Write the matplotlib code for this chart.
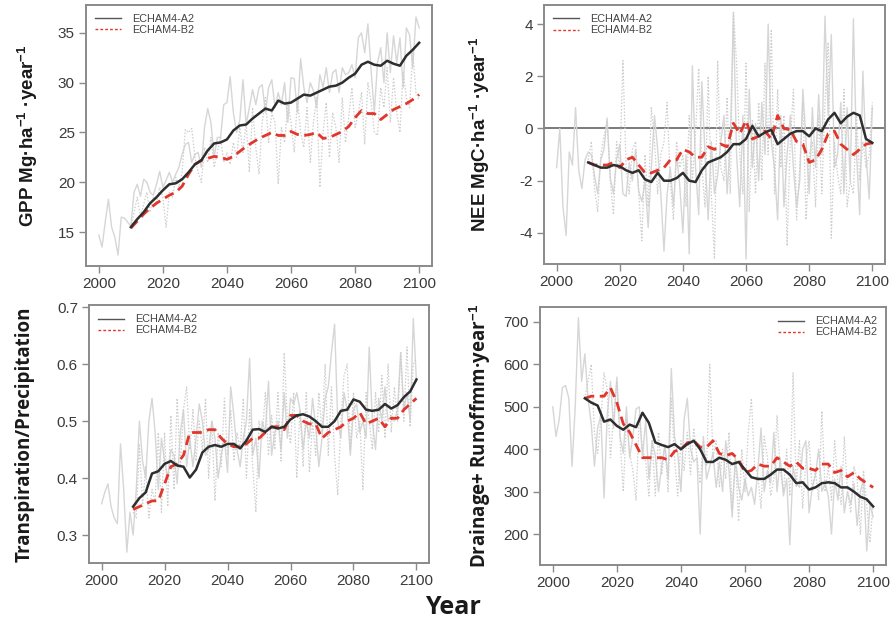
import numpy as np
import matplotlib
matplotlib.use("Agg")
import matplotlib.pyplot as plt

plt.rcParams["mathtext.fontset"] = "custom"
plt.rcParams["mathtext.rm"] = "Liberation Sans"
plt.rcParams["mathtext.bf"] = "Liberation Sans:bold"

# ---------------- data ----------------
years_raw_a2 = list(range(2000, 2101))
years_raw_b2 = list(range(2010, 2101))
years_smooth = list(range(2010, 2101, 2))

gpp_a2_raw = [14.7, 13.5, 16.0, 18.3, 15.5, 14.5, 12.7, 16.5, 16.4, 16.0,
              15.6, 19.0, 19.8, 18.6, 20.3, 20.0, 19.0, 18.7, 19.8, 21.1,
              19.5, 20.2, 21.0, 20.0, 20.8, 21.5, 22.8, 23.8, 24.0, 22.0,
              22.8, 23.0, 21.5, 25.5, 27.4, 26.0, 22.5, 24.5, 24.5, 27.8,
              28.0, 30.6, 27.0, 25.0, 26.2, 30.3, 25.8, 27.5, 29.3, 27.8,
              29.5, 29.8, 27.0, 29.5, 30.3, 27.5, 29.0, 27.8, 30.0, 26.0,
              30.5, 30.4, 27.0, 32.4, 29.5, 28.0, 30.0, 29.2, 27.5, 30.8,
              29.5, 31.5, 29.0, 31.0, 31.3, 29.0, 31.5, 30.8, 31.0, 31.8,
              30.5, 34.5, 35.0, 33.0, 35.9, 31.2, 27.0, 32.0, 33.5, 30.0,
              35.0, 31.0, 34.7, 32.0, 34.5, 29.5, 35.5, 34.8, 31.5, 36.6, 35.5]
gpp_b2_raw = [15.5, 17.0, 18.5, 16.5, 17.8, 19.0, 17.0, 18.5, 18.0, 19.5,
              18.5, 15.5, 19.0, 18.5, 20.5, 19.5, 21.0, 25.3, 25.0, 25.4,
              22.5, 21.0, 20.0, 23.5, 22.0, 24.5, 21.5, 23.0, 24.5, 22.0,
              23.0, 21.8, 24.0, 22.5, 25.5, 23.0, 26.0, 21.0, 27.5, 23.5,
              20.8, 26.0, 28.5, 24.0, 27.0, 26.0, 19.8, 25.5, 24.0, 28.0,
              26.0, 23.0, 28.5, 25.0, 23.5, 27.5, 22.0, 26.0, 28.5, 19.5,
              25.0, 28.0, 22.5, 27.0, 25.5, 22.0, 28.5, 24.0, 26.5, 29.5,
              25.5, 27.0, 29.0, 23.8, 30.0, 28.0, 25.0, 24.7, 29.5, 27.5,
              31.5, 26.0, 30.5, 27.0, 25.0, 31.0, 28.5, 27.5, 33.0, 29.0, 28.2]
gpp_a2_smooth = [15.5, 16.3, 17.0, 17.9, 18.5, 19.2, 19.8, 19.9, 20.3, 21.0,
                 21.8, 22.2, 23.2, 23.9, 24.0, 24.3, 25.2, 25.7, 25.8, 26.4,
                 26.9, 27.4, 27.2, 28.2, 27.9, 28.0, 28.4, 28.8, 28.7, 29.0,
                 29.3, 29.6, 29.7, 30.0, 30.5, 30.9, 31.8, 32.1, 31.8, 31.7,
                 32.2, 31.9, 31.7, 32.7, 33.3, 34.0]
gpp_b2_smooth = [15.4, 16.1, 16.8, 17.4, 17.9, 18.3, 18.7, 19.0, 19.6, 20.8,
                 21.8, 22.2, 22.4, 22.6, 22.5, 22.3, 22.6, 23.1, 23.6, 24.0,
                 24.4, 24.7, 25.0, 24.7, 24.7, 25.1, 24.8, 24.7, 24.8, 25.0,
                 24.4, 24.5, 24.8, 25.1, 25.6, 26.5, 27.2, 26.9, 26.9, 26.3,
                 26.8, 27.3, 27.6, 27.9, 28.3, 28.8]

nee_a2_raw = [-1.5, 0.0, -3.0, -4.1, -0.9, -1.4, 0.8, -1.6, -2.3, -1.2,
              -0.9, -1.0, -1.8, -2.5, -1.2, -0.8, 0.4, -1.9, -2.5, -1.2,
              -0.6, -2.5, -2.6, -1.3, -2.0, -0.8, -2.4, -2.8, -2.0, -3.8,
              -1.5, 0.5, -0.8, -2.5, -4.7, -2.5, -1.5, -3.0, -1.0, -2.2,
              -4.0, -1.0, -4.8, 2.4, -1.5, -3.3, 1.8, -1.0, -3.5, -0.5,
              -2.5, -1.8, -0.5, 0.5, -2.5, -0.5, 4.4, -1.0, -3.0, 0.5,
              -5.0, 1.5, -1.5, 0.2, -2.0, 1.0, -1.0, 4.0, -0.5, -1.5,
              -3.5, 0.5, -3.0, -1.0, 0.5, -1.5, -3.0, -2.0, 1.5, -0.5,
              -2.5, 0.8, -1.5, 1.3, -1.0, 4.3, 0.5, 3.6, -1.5, -1.0,
              1.0, -2.5, 0.8, -2.0, 4.2, -1.0, -3.3, 2.2, -1.0, -2.7, 0.8]
nee_b2_raw = [-1.2, -0.5, -2.3, -3.2, -1.0, -0.3, 0.3, -2.0, -3.3, -0.5,
              -1.5, 2.6, -1.5, -2.5, -0.8, -0.5, -2.5, -4.3, -1.0, -3.0,
              0.8, -0.5, -2.5, -1.0, -0.5, 1.0, -2.0, -3.5, -0.5, -1.5,
              -1.0, -3.0, 0.5, -2.0, -0.2, 2.3, -1.5, -3.0, 2.0, -2.5,
              -5.0, 2.6, -1.5, -2.0, 1.2, -2.5, 4.5, 2.5, -1.0, -2.5,
              2.5, -3.2, 0.3, -2.5, 1.0, -2.0, 2.5, -1.0, 3.8, -2.5,
              1.5, -1.5, 0.5, -4.5, -0.5, 1.5, -3.5, -1.5, 1.0, -3.5,
              -1.0, -0.5, -3.0, 0.5, -2.5, 1.0, 3.3, -4.2, -0.5, -1.8,
              -2.5, 1.5, -3.0, -2.0, -2.5, 0.5, -2.0, -0.5, -1.5, -1.0, 1.0]
nee_a2_smooth = [-1.3, -1.4, -1.5, -1.5, -1.4, -1.45, -1.6, -1.7, -1.6, -1.95,
                 -2.05, -1.7, -2.0, -2.0, -1.9, -1.7, -2.0, -2.05, -1.6, -1.3,
                 -1.2, -1.1, -0.9, -0.6, -0.6, -0.4, 0.1, -0.3, -0.15, -0.05,
                 -0.6, -0.4, -0.2, -0.1, -0.1, -0.3, 0.0, -0.1, 0.35, 0.6,
                 0.2, 0.45, 0.6, 0.5, -0.4, -0.55]
nee_b2_smooth = [-1.3, -1.4, -1.4, -1.4, -1.3, -1.5, -1.2, -1.1, -1.4, -1.7,
                 -1.7, -1.6, -1.5, -1.2, -1.2, -0.8, -0.9, -1.1, -1.1, -0.7,
                 -0.8, -0.6, -0.7, 0.2, -0.2, 0.3, -0.4, -0.3, -0.1, -0.4,
                 0.5, 0.0, -0.05, -0.5, -0.6, -1.3, -1.2, -0.8, -0.2, -0.1,
                 -0.6, -0.8, -1.0, -0.8, -0.6, -0.55]

tp_a2_raw = [0.355, 0.375, 0.39, 0.35, 0.33, 0.32, 0.46, 0.38, 0.27, 0.34,
             0.30, 0.38, 0.50, 0.43, 0.40, 0.50, 0.54, 0.48, 0.38, 0.47,
             0.43, 0.40, 0.45, 0.44, 0.39, 0.48, 0.52, 0.42, 0.47, 0.42,
             0.47, 0.53, 0.50, 0.44, 0.45, 0.50, 0.47, 0.40, 0.44, 0.47,
             0.41, 0.56, 0.51, 0.45, 0.42, 0.47, 0.50, 0.61, 0.44, 0.47,
             0.40, 0.50, 0.48, 0.57, 0.44, 0.48, 0.50, 0.45, 0.55, 0.47,
             0.54, 0.53, 0.55, 0.52, 0.45, 0.50, 0.47, 0.54, 0.49, 0.42,
             0.47, 0.54, 0.56, 0.62, 0.67, 0.50, 0.47, 0.55, 0.52, 0.44,
             0.52, 0.53, 0.48, 0.50, 0.47, 0.63, 0.50, 0.45, 0.54, 0.50,
             0.56, 0.50, 0.51, 0.50, 0.52, 0.62, 0.52, 0.55, 0.50, 0.68, 0.57]
tp_b2_raw = [0.34, 0.33, 0.46, 0.35, 0.42, 0.33, 0.38, 0.36, 0.48, 0.34,
             0.48, 0.35, 0.51, 0.38, 0.54, 0.42, 0.52, 0.56, 0.45, 0.52,
             0.43, 0.50, 0.45, 0.54, 0.40, 0.50, 0.36, 0.48, 0.42, 0.54,
             0.44, 0.52, 0.43, 0.48, 0.45, 0.54, 0.40, 0.52, 0.42, 0.34,
             0.50, 0.47, 0.55, 0.44, 0.51, 0.45, 0.55, 0.43, 0.62, 0.50,
             0.46, 0.55, 0.40, 0.52, 0.42, 0.55, 0.41, 0.50, 0.44, 0.55,
             0.48, 0.60, 0.44, 0.56, 0.44, 0.37, 0.50, 0.58, 0.60, 0.45,
             0.55, 0.47, 0.50, 0.38, 0.55, 0.50, 0.45, 0.55, 0.48, 0.58,
             0.47, 0.60, 0.48, 0.56, 0.50, 0.62, 0.50, 0.63, 0.49, 0.60, 0.61]
tp_a2_smooth = [0.350, 0.365, 0.375, 0.408, 0.412, 0.425, 0.430, 0.422, 0.420, 0.401,
                0.415, 0.445, 0.455, 0.458, 0.455, 0.460, 0.460, 0.452, 0.466, 0.485,
                0.486, 0.481, 0.490, 0.487, 0.490, 0.503, 0.510, 0.512, 0.508, 0.500,
                0.490, 0.490, 0.500, 0.518, 0.520, 0.538, 0.534, 0.520, 0.518, 0.520,
                0.530, 0.522, 0.528, 0.542, 0.552, 0.573]
tp_b2_smooth = [0.345, 0.350, 0.355, 0.360, 0.360, 0.390, 0.420, 0.425, 0.440, 0.480,
                0.480, 0.480, 0.485, 0.485, 0.470, 0.460, 0.455, 0.455, 0.460, 0.470,
                0.470, 0.480, 0.490, 0.490, 0.485, 0.510, 0.510, 0.500, 0.495, 0.495,
                0.470, 0.480, 0.485, 0.490, 0.500, 0.505, 0.515, 0.495, 0.500, 0.505,
                0.490, 0.505, 0.505, 0.520, 0.530, 0.540]

dr_a2_raw = [500, 430, 470, 545, 550, 520, 360, 500, 710, 560,
             625, 520, 460, 360, 450, 480, 285, 480, 560, 450,
             570, 430, 390, 500, 380, 430, 495, 500, 380, 470,
             330, 420, 385, 300, 360, 410, 330, 590, 430, 390,
             300, 470, 520, 400, 370, 380, 200, 430, 330, 360,
             390, 310, 370, 300, 420, 350, 240, 380, 310, 280,
             330, 290, 310, 270, 350, 450, 300, 350, 320, 440,
             300, 380, 290, 330, 175, 360, 320, 310, 400, 420,
             250, 310, 340, 400, 300, 320, 290, 200, 330, 280,
             360, 250, 300, 270, 320, 220, 300, 330, 160, 270, 240]
dr_b2_raw = [520, 560, 600, 440, 390, 470, 580, 540, 380, 480,
             560, 420, 300, 470, 390, 350, 280, 480, 400, 370,
             290, 420, 290, 440, 340, 410, 300, 520, 380, 290,
             420, 350, 440, 340, 450, 380, 320, 420, 360, 600,
             380, 420, 310, 400, 330, 440, 260, 380, 230, 400,
             300, 440, 520, 360, 340, 260, 430, 380, 290, 330,
             480, 350, 300, 400, 290, 580, 310, 420, 260, 370,
             420, 300, 350, 280, 490, 300, 360, 280, 420, 320,
             270, 430, 300, 250, 360, 330, 200, 350, 270, 180, 270]
dr_a2_smooth = [520, 510, 503, 465, 470, 455, 446, 458, 452, 486,
                462, 416, 410, 405, 412, 400, 412, 420, 400, 370,
                370, 380, 375, 365, 370, 352, 334, 330, 330, 340,
                352, 352, 340, 320, 322, 305, 310, 320, 322, 320,
                310, 310, 300, 288, 282, 265]
dr_b2_smooth = [520, 525, 525, 525, 545, 510, 460, 440, 410, 380,
                380, 380, 380, 375, 395, 400, 415, 420, 405, 405,
                420, 390, 385, 390, 375, 345, 350, 365, 360, 360,
                380, 370, 360, 370, 355, 355, 350, 365, 365, 345,
                350, 335, 345, 330, 320, 310]

legend_labels = ["ECHAM4-A2", "ECHAM4-B2"]
x_ticks = [2000, 2020, 2040, 2060, 2080, 2100]

# ---------------- styling ----------------
SPINE = "#8a8a8a"
TXT = "#3a3a3a"
RAW_A2 = "#d6d6d6"
RAW_B2 = "#cdcdcd"
SM_A2 = "#2e2e2e"
SM_B2 = "#e2352b"

fig = plt.figure(figsize=(8.94, 6.26), dpi=100)
fig.patch.set_facecolor("white")

panels = [
    dict(pos=[0.0962, 0.5751, 0.387, 0.417], ylim=(11.6, 37.8), yt=[15, 20, 25, 30, 35],
         ytl=["15", "20", "25", "30", "35"],
         data=(gpp_a2_raw, gpp_b2_raw, gpp_a2_smooth, gpp_b2_smooth),
         ylabel="GPP Mg·ha$^{\\mathbf{-1}}$ ·year$^{\\mathbf{-1}}$", lab_x=0.031,
         labfont=["Liberation Sans", "DejaVu Sans"], loc="upper left", zero=False),
    dict(pos=[0.6085, 0.5783, 0.3814, 0.4137], ylim=(-5.19, 4.73), yt=[-4, -2, 0, 2, 4],
         ytl=["-4", "-2", "0", "2", "4"],
         data=(nee_a2_raw, nee_b2_raw, nee_a2_smooth, nee_b2_smooth),
         ylabel="NEE MgC·ha$^{\\mathbf{-1}}$ ·year$^{\\mathbf{-1}}$", lab_x=0.537,
         labfont=["Liberation Sans", "DejaVu Sans"], loc="upper left", zero=True),
    dict(pos=[0.0996, 0.1006, 0.3803, 0.412], ylim=(0.251, 0.7035), yt=[0.3, 0.4, 0.5, 0.6, 0.7],
         ytl=["0.3", "0.4", "0.5", "0.6", "0.7"],
         data=(tp_a2_raw, tp_b2_raw, tp_a2_smooth, tp_b2_smooth),
         ylabel="Transpiration/Precipitation", lab_x=0.028,
         labfont=["Open Sans", "DejaVu Sans"], loc="upper left", zero=False),
    dict(pos=[0.604, 0.0974, 0.387, 0.412], ylim=(127, 735), yt=[200, 300, 400, 500, 600, 700],
         ytl=["200", "300", "400", "500", "600", "700"],
         data=(dr_a2_raw, dr_b2_raw, dr_a2_smooth, dr_b2_smooth),
         ylabel="Drainage+ Runoffmm·year$^{\\mathbf{-1}}$", lab_x=0.537,
         labfont=["Open Sans", "DejaVu Sans"], loc="upper right", zero=False),
]

for p in panels:
    ax = fig.add_axes(p["pos"])
    a2r, b2r, a2s, b2s = p["data"]
    if p["zero"]:
        ax.axhline(0, color="#7a7a7a", lw=1.4, zorder=1)
    ax.plot(years_raw_a2, a2r, color=RAW_A2, lw=1.0, zorder=2)
    ax.plot(years_raw_b2, b2r, color=RAW_B2, lw=0.9, ls=(0, (1.2, 1.4)), zorder=2)
    ax.plot(years_smooth, a2s, color=SM_A2, lw=1.8, zorder=4)
    ax.plot(years_smooth, b2s, color=SM_B2, lw=2.0, ls=(0, (3.5, 2)), zorder=3)
    ax.set_xlim(1996, 2104)
    ax.set_ylim(*p["ylim"])
    ax.set_xticks(x_ticks)
    ax.set_xticklabels([str(t) for t in x_ticks])
    ax.set_yticks(p["yt"])
    ax.set_yticklabels(p["ytl"])
    for s in ax.spines.values():
        s.set_color(SPINE)
        s.set_linewidth(1.4)
    ax.tick_params(direction="out", length=5, width=1.0, color=SPINE,
                   labelsize=11, labelcolor=TXT, pad=3)
    for lab in ax.get_xticklabels() + ax.get_yticklabels():
        lab.set_family(["Liberation Sans", "DejaVu Sans"])
    # legend
    h1, = ax.plot([], [], color="#555555", lw=1.0)
    h2, = ax.plot([], [], color=SM_B2, lw=1.0, ls=(0, (2, 1.5)))
    leg = ax.legend([h1, h2], legend_labels, loc=p["loc"], frameon=False,
                    prop={"family": ["Liberation Sans", "DejaVu Sans"], "size": 7.8},
                    handlelength=2.4, handletextpad=1.0, labelspacing=0.1,
                    borderaxespad=0.45)
    for t in leg.get_texts():
        t.set_color("#444444")
    pos = p["pos"]
    fig.text(p["lab_x"], pos[1] + pos[3] / 2, p["ylabel"], rotation=90,
             ha="center", va="center", fontsize=13.5, fontweight="bold",
             color="#1a1a1a", family=p["labfont"])

fig.text(0.507, 0.029, "Year", ha="center", va="center", fontsize=18,
         fontweight="bold", color="#1a1a1a", family=["Open Sans", "DejaVu Sans"])

fig.savefig("out.png", dpi=100, facecolor="white")
